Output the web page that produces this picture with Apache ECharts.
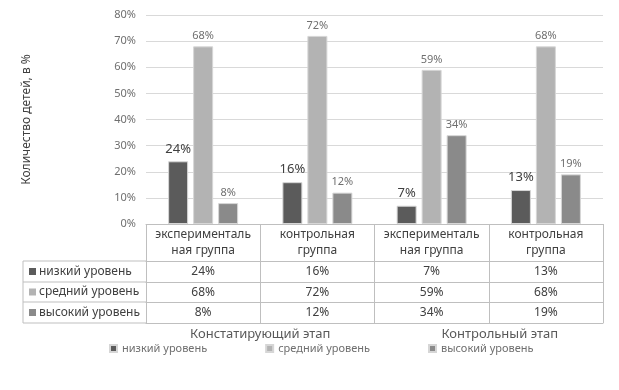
<!DOCTYPE html>
<html>
<head>
<meta charset="utf-8">
<script src="https://cdn.jsdelivr.net/npm/echarts@6/dist/echarts.min.js"></script>
<style>
  html, body { margin: 0; padding: 0; background: #fff; }
  #chart { width: 619px; height: 390px; }
</style>
</head>
<body>
<div id="chart"></div>
<script>
// категории и этапы
const categories = ['эксперименталь\nная группа', 'контрольная\nгруппа', 'эксперименталь\nная группа', 'контрольная\nгруппа'];
const stages = ['Констатирующий этап', 'Контрольный этап'];
const seriesNames = ['низкий уровень', 'средний уровень', 'высокий уровень'];
const seriesColors = ['#5b5b5b', '#b3b3b3', '#8a8a8a'];

// значения, %
const lowValues = [24, 16, 7, 13];
const midValues = [68, 72, 59, 68];
const highValues = [8, 12, 34, 19];
const allValues = [lowValues, midValues, highValues];

const FONT = '"Noto Sans", "DejaVu Sans", sans-serif';
const LINE = '#bfbfbf';
const G = { left: 146, right: 16, top: 15, bottom: 166 }; // низ графика на y = 224
const HEAD_H = 37;
const ROW_H = [21, 20, 21];

const chart = echarts.init(document.getElementById('chart'), null, { renderer: 'canvas' });

// строки таблицы через дополнительные оси X
const xAxes = [{
  type: 'category',
  data: categories,
  position: 'bottom',
  axisLine: { lineStyle: { color: LINE } },
  axisTick: { show: true, length: HEAD_H, interval: 0, lineStyle: { color: LINE } },
  axisLabel: { interval: 0, margin: 3, align: 'center', color: '#404040', fontFamily: FONT, fontSize: 12, lineHeight: 16 },
}];
let offset = HEAD_H;
allValues.forEach((vals, r) => {
  xAxes.push({
    type: 'category',
    data: categories,
    position: 'bottom',
    offset: offset,
    axisLine: { lineStyle: { color: LINE } },
    axisTick: { show: true, length: ROW_H[r], interval: 0, lineStyle: { color: LINE } },
    axisLabel: {
      interval: 0, margin: 3.5, color: '#404040', fontFamily: FONT, fontSize: 12, lineHeight: 14,
      formatter: (v, i) => vals[i] + '%',
    },
  });
  offset += ROW_H[r];
});
xAxes.push({
  type: 'category', data: categories, position: 'bottom', offset: offset,
  axisLine: { lineStyle: { color: LINE } }, axisTick: { show: false }, axisLabel: { show: false },
});

const series = allValues.map((vals, s) => ({
  name: seriesNames[s],
  type: 'bar',
  data: vals,
  barWidth: 20,
  barGap: '25%',
  itemStyle: { color: seriesColors[s], borderColor: '#d6d6d6', borderWidth: 1 },
  label: {
    show: true,
    position: 'top',
    distance: s === 0 ? 6 : 5,
    formatter: '{c}%',
    fontFamily: FONT,
    fontSize: s === 0 ? 13 : 11,
    color: s === 0 ? '#404040' : '#6f6f6f',
  },
}));

chart.setOption({
  animation: false,
  backgroundColor: '#fff',
  grid: G,
  xAxis: xAxes,
  yAxis: {
    type: 'value',
    min: 0,
    max: 80,
    interval: 10,
    name: 'Количество детей, в %',
    nameLocation: 'middle',
    nameRotate: 90,
    nameGap: 113,
    nameTextStyle: { color: '#404040', fontFamily: FONT, fontSize: 12 },
    axisLine: { show: false },
    axisTick: { show: false },
    axisLabel: { formatter: '{value}%', color: '#6f6f6f', fontFamily: FONT, fontSize: 11, margin: 10 },
    splitLine: { lineStyle: { color: '#d9d9d9' } },
  },
  legend: {
    data: seriesNames,
    left: 104,
    top: 338,
    icon: 'rect',
    itemWidth: 7,
    itemHeight: 7,
    itemGap: 58,
    textStyle: { color: '#6f6f6f', fontFamily: FONT, fontSize: 11 },
  },
  series: series,
});

// левая колонка таблицы и подписи этапов
const tableLeft = 23;
const tableTop = 224 + HEAD_H;
const graphics = [];
let y = tableTop;
graphics.push({ type: 'line', shape: { x1: tableLeft, y1: y, x2: G.left, y2: y }, style: { stroke: LINE, lineWidth: 1 } });
seriesNames.forEach((name, r) => {
  const cy = y + ROW_H[r] / 2;
  graphics.push({ type: 'rect', shape: { x: 29, y: cy - 3.5, width: 7, height: 7 }, style: { fill: seriesColors[r] } });
  graphics.push({
    type: 'text', x: 39, y: cy,
    style: { text: name, fill: '#404040', font: '12px ' + FONT, textVerticalAlign: 'middle', verticalAlign: 'middle' },
  });
  y += ROW_H[r];
  graphics.push({ type: 'line', shape: { x1: tableLeft, y1: y, x2: G.left, y2: y }, style: { stroke: LINE, lineWidth: 1 } });
});
graphics.push({ type: 'line', shape: { x1: tableLeft, y1: tableTop, x2: tableLeft, y2: y }, style: { stroke: LINE, lineWidth: 1 } });

const c = categories.map((_, i) => chart.convertToPixel({ xAxisIndex: 0 }, i));
const stageX = [(c[0] + c[1]) / 2, (c[2] + c[3]) / 2 + 11];
stages.forEach((st, i) => {
  graphics.push({
    type: 'text', x: stageX[i], y: 334,
    style: { text: st, fill: '#595959', font: '13px ' + FONT, align: 'center', verticalAlign: 'middle' },
  });
});
chart.setOption({ graphic: graphics });
</script>
</body>
</html>
